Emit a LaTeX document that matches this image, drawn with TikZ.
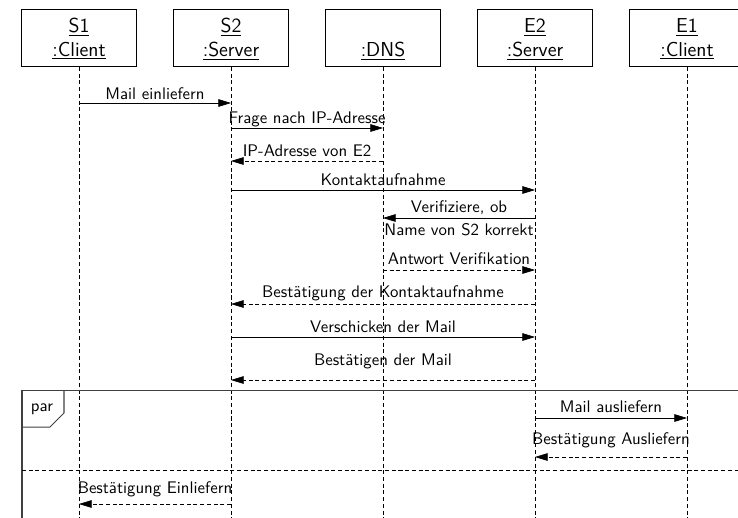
\documentclass[tikz,border=0pt]{standalone}
\usetikzlibrary{arrows.meta, positioning}

\begin{document}
\begin{tikzpicture}[
    x=0.595pt, y=-0.595pt,
    font=\sffamily,
    inst/.style={
        rectangle, draw, fill=white,
        minimum width=68.4pt, minimum height=34pt,
        align=center, inner sep=1pt,
        text height=23.7pt, text depth=2pt,
        font=\sffamily\large
    },
    dashline/.style={dash pattern=on 2.4pt off 1.6pt},
    lifeline/.style={dashline, thin},
    call/.style={-{Triangle[length=7.5pt, width=4.5pt]}},
    reply/.style={dashline, -{Triangle[length=7.5pt, width=4.5pt]}},
    lbl/.style={anchor=base, inner sep=0pt, yshift=#1},
    lbl/.default=2.4pt,
    frame/.style={draw=black!75, line width=0.6pt}
]

\clip (0,0) rectangle (738,517);

% instances
\node[inst] (s1)  at (79, 38)  {\underline{S1}\\\underline{:Client}};
\node[inst] (s2)  at (231, 38) {\underline{S2}\\\underline{:Server}};
\node[inst] (dns) at (383, 38) {\\\underline{:DNS}};
\node[inst] (e2)  at (535, 38) {\underline{E2}\\\underline{:Server}};
\node[inst] (e1)  at (687, 38) {\underline{E1}\\\underline{:Client}};

\coordinate (bot) at (0, 540);
\foreach \n in {s1, s2, dns, e2, e1}
    \draw[lifeline] (\n.south) -- (\n |- bot);

% messages
\draw[call]  (s1 |- 0,103)  -- node[lbl=1.8pt]{Mail einliefern} (s2 |- 0,103);
\draw[call]  (s2 |- 0,128)  -- node[lbl]{Frage nach IP-Adresse} (dns |- 0,128);
\draw[reply] (dns |- 0,161) -- node[lbl]{IP-Adresse von E2} (s2 |- 0,161);
\draw[call]  (s2 |- 0,190)  -- node[lbl]{Kontaktaufnahme} (e2 |- 0,190);
\draw[call]  (e2 |- 0,218)  -- node[lbl=3pt]{Verifiziere, ob}
                               node[lbl=-10.7pt]{Name von S2 korrekt} (dns |- 0,218);
\draw[reply] (dns |- 0,270) -- node[lbl=3pt]{Antwort Verifikation} (e2 |- 0,270);
\draw[reply] (e2 |- 0,304)  -- node[lbl=3.6pt]{Bestätigung der Kontaktaufnahme} (s2 |- 0,304);
\draw[call]  (s2 |- 0,337)  -- node[lbl]{Verschicken der Mail} (e2 |- 0,337);
\draw[reply] (e2 |- 0,380)  -- node[lbl=8.9pt]{Bestätigen der Mail} (s2 |- 0,380);

% par fragment
\draw[frame] (22,560) |- (760,390);
\draw[frame] (22,427) -- (50,427) -- (64,413) -- (64,390);
\node (par) at (42,409) {par};
\draw[dashline] (22,470) -- (760,470);

\draw[call]  (e2 |- 0,418)  -- node[lbl=3pt]{Mail ausliefern} (e1 |- 0,418);
\draw[reply] (e1 |- 0,457)  -- node[lbl=7.7pt]{Bestätigung Ausliefern} (e2 |- 0,457);
\draw[reply] (s2 |- 0,504)  -- node[lbl=6pt]{Bestätigung Einliefern} (s1 |- 0,504);

\end{tikzpicture}
\end{document}
